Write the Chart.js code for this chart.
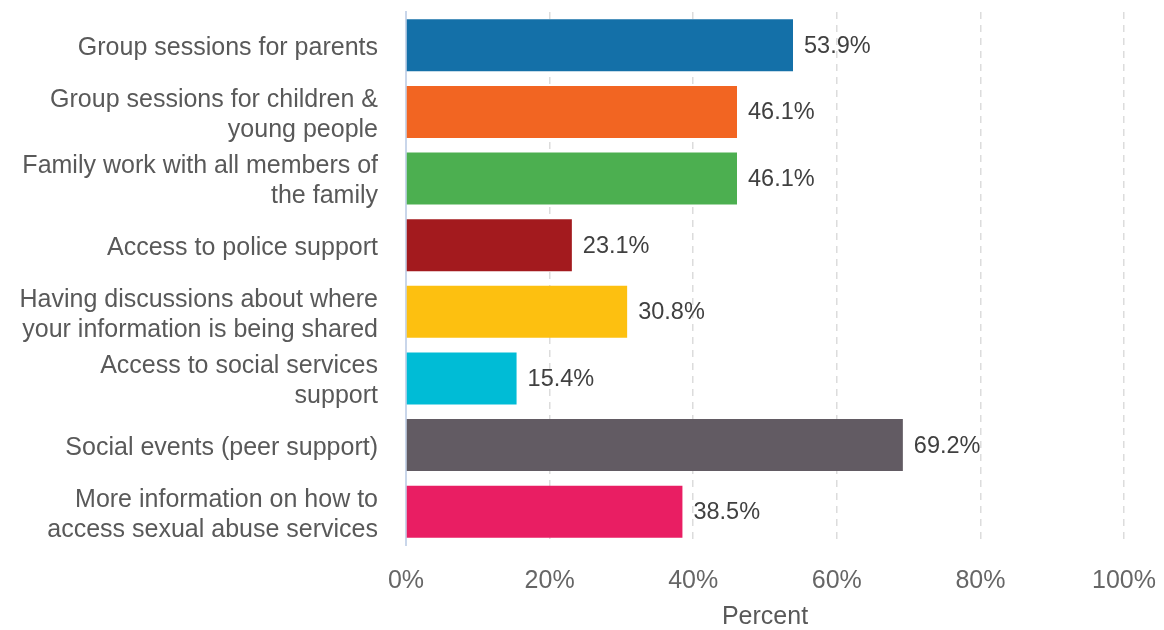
<!DOCTYPE html>
<html>
<head>
<meta charset="utf-8">
<script src="https://cdn.jsdelivr.net/npm/chart.js@4"></script>
<style>
  html, body { margin: 0; padding: 0; background: #fff; }
  #wrap { width: 1164px; height: 630px; }
</style>
</head>
<body>
<div id="wrap"><canvas id="supportChart"></canvas></div>
<script>
const categories = [
  ["Group sessions for parents"],
  ["Group sessions for children &", "young people"],
  ["Family work with all members of", "the family"],
  ["Access to police support"],
  ["Having discussions about where", "your information is being shared"],
  ["Access to social services", "support"],
  ["Social events (peer support)"],
  ["More information on how to", "access sexual abuse services"]
]
const percentValues = [53.9, 46.1, 46.1, 23.1, 30.8, 15.4, 69.2, 38.5]
const xTicks = [0, 20, 40, 60, 80, 100]
const barColors = ['#1470a8', '#f26522', '#4caf50', '#a31a1e', '#fdc010', '#00bcd6', '#625b63', '#e91e63']

const fontFamily = '"Liberation Sans", Arial, sans-serif'

// draws the "53.9%" labels at the end of each bar
const valueLabels = {
  id: 'valueLabels',
  afterDatasetsDraw(chart) {
    const ctx = chart.ctx
    const meta = chart.getDatasetMeta(0)
    ctx.save()
    ctx.font = '23.5px ' + fontFamily
    ctx.fillStyle = '#404040'
    ctx.textBaseline = 'middle'
    ctx.textAlign = 'left'
    meta.data.forEach(function(bar, i) {
      ctx.fillText(percentValues[i].toFixed(1) + '%', bar.x + 11, bar.y + 1)
    })
    ctx.restore()
  }
}

new Chart(document.getElementById('supportChart'), {
  type: 'bar',
  data: {
    labels: categories,
    datasets: [{
      label: 'Percent',
      data: percentValues,
      backgroundColor: barColors,
      borderWidth: 0,
      barPercentage: 0.78,
      categoryPercentage: 1
    }]
  },
  options: {
    indexAxis: 'y',
    responsive: true,
    maintainAspectRatio: false,
    animation: false,
    layout: { padding: { top: 12, right: 40, bottom: 0, left: 0 } },
    plugins: {
      legend: { display: false },
      tooltip: { enabled: false }
    },
    scales: {
      x: {
        min: 0,
        max: 100,
        afterBuildTicks(scale) {
          scale.ticks = xTicks.map(v => ({ value: v }))
        },
        afterFit(scale) {
          scale.height = 85
          scale.paddingLeft = 0
          scale.paddingRight = 0
        },
        grid: {
          color: '#dcdcdc',
          lineWidth: 1.5,
          drawTicks: false,
          tickBorderDash: [6, 6]
        },
        border: { display: false, dash: [7, 6] },
        ticks: {
          maxRotation: 0,
          padding: 21,
          color: '#666666',
          font: { family: fontFamily, size: 25 },
          callback: v => v + '%'
        },
        title: {
          display: true,
          text: 'Percent',
          color: '#595959',
          font: { family: fontFamily, size: 25, lineHeight: 1 },
          padding: { top: 9, bottom: 0 }
        }
      },
      y: {
        afterFit(scale) {
          scale.width = 406
          scale.paddingTop = 0
          scale.paddingBottom = 0
        },
        grid: { display: false, drawTicks: false },
        border: { display: true, color: '#c9d6ea', width: 2 },
        ticks: {
          autoSkip: false,
          padding: 28,
          labelOffset: 3,
          color: '#595959',
          font: { family: fontFamily, size: 25, lineHeight: 1.2 }
        }
      }
    }
  },
  plugins: [valueLabels]
})
</script>
</body>
</html>
